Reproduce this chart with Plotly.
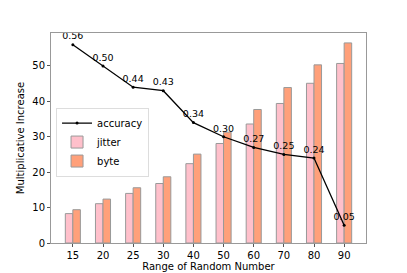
import plotly.graph_objects as go

categories = ["15", "20", "25", "30", "40", "50", "60", "70", "80", "90"]
jitter = [8.3, 11.1, 14.0, 16.8, 22.4, 28.1, 33.6, 39.4, 45.1, 50.7]
byte = [9.4, 12.4, 15.6, 18.7, 25.1, 31.3, 37.7, 43.9, 50.3, 56.5]
accuracy = [0.56, 0.50, 0.44, 0.43, 0.34, 0.30, 0.27, 0.25, 0.24, 0.05]

idx = list(range(len(categories)))
font = "DejaVu Sans"

fig = go.Figure()
fig.add_trace(go.Scatter(
    x=idx, y=[a * 100 for a in accuracy], name="accuracy",
    mode="lines+markers+text",
    line=dict(color="black", width=1.3),
    marker=dict(color="black", size=3),
    text=[f"{a:.2f}" for a in accuracy],
    textposition="top center",
    textfont=dict(family=font, size=9.5, color="black"),
    cliponaxis=False,
))
fig.add_trace(go.Bar(
    x=[i - 0.125 for i in idx], y=jitter, name="jitter", width=0.25,
    marker=dict(color="pink", line=dict(color="#999999", width=1)),
))
fig.add_trace(go.Bar(
    x=[i + 0.125 for i in idx], y=byte, name="byte", width=0.25,
    marker=dict(color="lightsalmon", line=dict(color="#999999", width=1)),
))

fig.update_layout(
    width=407, height=273,
    margin=dict(l=51, r=41, t=33, b=30, autoexpand=False),
    paper_bgcolor="white", plot_bgcolor="white",
    font=dict(family=font, size=10, color="black"),
    barmode="overlay",
    showlegend=True,
    legend=dict(
        x=0.016, y=0.645, xanchor="left", yanchor="top",
        bordercolor="#dddddd", borderwidth=1, bgcolor="rgba(255,255,255,0.8)",
        font=dict(family=font, size=10), traceorder="normal",
        itemwidth=30, tracegroupgap=0,
    ),
    xaxis=dict(
        range=[-0.725, 9.725], tickmode="array", tickvals=idx, ticktext=categories,
        showgrid=False, zeroline=False, showline=True, linecolor="#999999", linewidth=1,
        mirror=True, ticks="outside", ticklen=3, tickcolor="#555555",
        title=dict(text="Range of Random Number", font=dict(size=10), standoff=1),
        tickfont=dict(size=10), automargin=False,
    ),
    yaxis=dict(
        range=[0, 59.3], tickvals=[0, 10, 20, 30, 40, 50],
        showgrid=False, zeroline=False, showline=True, linecolor="#999999", linewidth=1,
        mirror=True, ticks="outside", ticklen=3, tickcolor="#555555",
        title=dict(text="Multiplicative Increase", font=dict(size=10), standoff=5),
        tickfont=dict(size=10), automargin=False,
    ),
)

fig.write_html(
    "out.html",
    config={"displayModeBar": False},
    post_script="document.body.style.margin='0';document.body.style.overflow='hidden';",
)
